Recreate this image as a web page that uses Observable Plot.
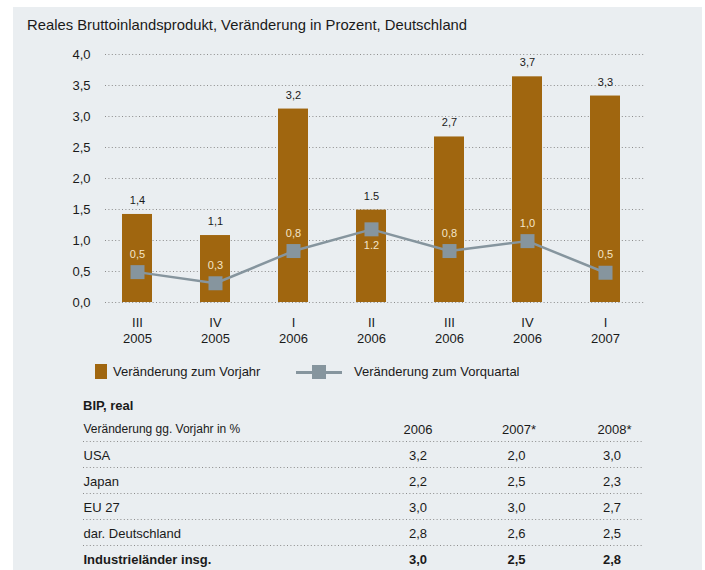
<!DOCTYPE html>
<html>
<head>
<meta charset="utf-8">
<script src="https://cdn.jsdelivr.net/npm/d3@7"></script>
<script src="https://cdn.jsdelivr.net/npm/@observablehq/plot@0.6"></script>
<style>
  html, body { margin: 0; padding: 0; background: #ffffff; }
  body { width: 705px; height: 570px; position: relative; overflow: hidden;
         font-family: "Liberation Sans", Arial, Helvetica, sans-serif; color: #1a1a1a; }
  #panel { position: absolute; left: 13px; top: 7px; width: 689px; height: 563px; background: #eaeef1; }
  #title { position: absolute; left: 27px; top: 15px; font-size: 14.8px; line-height: 20px; white-space: nowrap; }
  .abs { position: absolute; left: 0; top: 0; }
  .leg { position: absolute; font-size: 13px; line-height: 16px; white-space: nowrap; }
  #tabtitle { position: absolute; left: 83px; top: 397px; font-size: 13px; font-weight: bold; line-height: 18px; }
</style>
</head>
<body>
<div id="panel"></div>
<div id="title"></div>
<div id="chart" class="abs"></div>
<div id="legend"></div>
<div id="tabtitle"></div>
<div id="table" class="abs"></div>
<script>
// ---------- data ----------
const titleText = "Reales Bruttoinlandsprodukt, Veränderung in Prozent, Deutschland";
const quarters = ["III", "IV", "I", "II", "III", "IV", "I"];
const years = ["2005", "2005", "2006", "2006", "2006", "2006", "2007"];
const vorjahr = [1.42, 1.08, 3.12, 1.49, 2.67, 3.64, 3.33];
const vorjahrLabels = ["1,4", "1,1", "3,2", "1.5", "2,7", "3,7", "3,3"];
const vorquartal = [0.49, 0.31, 0.83, 1.18, 0.83, 0.99, 0.48];
const vorquartalLabels = ["0,5", "0,3", "0,8", "1.2", "0,8", "1,0", "0,5"];
const labelBelow = ["II 2006"];
const yTicks = [0, 0.5, 1.0, 1.5, 2.0, 2.5, 3.0, 3.5, 4.0];
const seriesNames = ["Veränderung zum Vorjahr", "Veränderung zum Vorquartal"];

const tableTitle = "BIP, real";
const tableHeader = "Veränderung gg. Vorjahr in %";
const tableYears = ["2006", "2007*", "2008*"];
const countries = ["USA", "Japan", "EU 27", "dar. Deutschland", "Industrieländer insg."];
const gdp2006 = [3.2, 2.2, 3.0, 2.8, 3.0];
const gdp2007 = [2.0, 2.5, 3.0, 2.6, 2.5];
const gdp2008 = [3.0, 2.3, 2.7, 2.5, 2.8];
const boldRows = ["Industrieländer insg."];

// ---------- styles ----------
const BAR = "#a0660f";
const LINE = "#86959e";
const TXT = "#1a1a1a";
const CREAM = "#f4e5c8";
const GRID = "#8c8c8c";
const FONT = "'Liberation Sans', Arial, Helvetica, sans-serif";
const fmt = v => v.toFixed(1).replace(".", ",");

document.getElementById("title").textContent = titleText;
document.getElementById("tabtitle").textContent = tableTitle;

// ---------- main chart ----------
const keys = quarters.map((q, i) => q + " " + years[i]);
const data = keys.map((k, i) => ({
  key: k, quarter: quarters[i], year: years[i],
  vorjahr: vorjahr[i], vorjahrLabel: vorjahrLabels[i],
  vorquartal: vorquartal[i], vorquartalLabel: vorquartalLabels[i]
}));
const byKey = new Map(data.map(d => [d.key, d]));

const chart = Plot.plot({
  width: 705,
  height: 350,
  marginLeft: 97,
  marginRight: 60,
  marginTop: 54,
  marginBottom: 48,
  style: { background: "transparent", fontFamily: FONT, fontSize: "13px", color: TXT, overflow: "visible" },
  x: { type: "band", domain: keys, paddingInner: 0.615, paddingOuter: 0.3075, label: null },
  y: { domain: [0, 4], label: null },
  marks: [
    Plot.ruleY(yTicks, { stroke: GRID, strokeWidth: 1, strokeDasharray: "1,2.4", insetLeft: 8 }),
    Plot.barY(data, { x: "key", y: "vorjahr", fill: BAR }),
    Plot.line(data, { x: "key", y: "vorquartal", stroke: LINE, strokeWidth: 2.5 }),
    Plot.dot(data, { x: "key", y: "vorquartal", symbol: "square", r: 7.9, fill: LINE, stroke: "none" }),
    Plot.text(data, { x: "key", y: "vorjahr", text: "vorjahrLabel", dy: -14, fontSize: 11, fill: TXT }),
    Plot.text(data.filter(d => !labelBelow.includes(d.key)), { x: "key", y: "vorquartal", text: "vorquartalLabel", dy: -18, fontSize: 11, fill: CREAM }),
    Plot.text(data.filter(d => labelBelow.includes(d.key)), { x: "key", y: "vorquartal", text: "vorquartalLabel", dy: 16, fontSize: 11, fill: CREAM }),
    Plot.axisY({ ticks: yTicks, tickSize: 0, tickPadding: 7, tickFormat: fmt, fontSize: 13, fill: TXT, label: null }),
    Plot.axisX({ tickSize: 0, tickPadding: 15, tickFormat: k => byKey.get(k).quarter, fontSize: 13, fill: TXT, label: null }),
    Plot.axisX({ tickSize: 0, tickPadding: 31, tickFormat: k => byKey.get(k).year, fontSize: 13, fill: TXT, label: null })
  ]
});
document.getElementById("chart").appendChild(chart);

// ---------- legend ----------
const legend = document.getElementById("legend");
legend.innerHTML = `
  <div style="position:absolute;left:95px;top:364px;width:12px;height:15px;background:${BAR}"></div>
  <div class="leg" style="left:113px;top:364px">${seriesNames[0]}</div>
  <div style="position:absolute;left:296px;top:371px;width:46px;height:2.5px;background:${LINE}"></div>
  <div style="position:absolute;left:312px;top:365px;width:14px;height:14px;background:${LINE}"></div>
  <div class="leg" style="left:354px;top:364px">${seriesNames[1]}</div>
`;

// ---------- table ----------
const rows = ["__header__", ...countries];
const colX = { label: 83, c0: 417.5, c1: 516, c2: 611.5 };
const cells = [];
countries.forEach((c, i) => {
  const bold = boldRows.includes(c);
  cells.push({ row: c, x: colX.label, text: c, anchor: "start", bold });
  cells.push({ row: c, x: colX.c0, text: fmt(gdp2006[i]), anchor: "middle", bold });
  cells.push({ row: c, x: colX.c1, text: fmt(gdp2007[i]), anchor: "middle", bold });
  cells.push({ row: c, x: colX.c2, text: fmt(gdp2008[i]), anchor: "middle", bold });
});
const headerYears = tableYears.map((y, i) => ({ row: "__header__", x: [colX.c0, colX.c1, colX.c2][i], text: y }));

const table = Plot.plot({
  width: 705,
  height: 570,
  marginLeft: 83,
  marginRight: 63,
  marginTop: 0,
  marginBottom: 0,
  style: { background: "transparent", fontFamily: FONT, fontSize: "13px", color: TXT, overflow: "visible" },
  x: { type: "identity", axis: null },
  y: { type: "point", domain: rows, range: [429, 559], padding: 0, axis: null },
  marks: [
    Plot.ruleY(rows.slice(0, -1), { y: d => d, dy: 12, stroke: GRID, strokeWidth: 1, strokeDasharray: "1,2.4" }),
    Plot.text([tableHeader], { x: colX.label, y: () => "__header__", text: d => d, textAnchor: "start", fontSize: 12, fill: TXT, style: "letter-spacing:-0.2px" }),
    Plot.text(headerYears, { x: "x", y: "row", text: "text", textAnchor: "start", dx: -14.5, fontSize: 13, fill: TXT }),
    Plot.text(cells.filter(d => !d.bold && d.anchor === "start"), { x: "x", y: "row", text: "text", textAnchor: "start", fontSize: 13, fill: TXT }),
    Plot.text(cells.filter(d => !d.bold && d.anchor === "middle"), { x: "x", y: "row", text: "text", textAnchor: "middle", fontSize: 13, fill: TXT }),
    Plot.text(cells.filter(d => d.bold && d.anchor === "start"), { x: "x", y: "row", text: "text", textAnchor: "start", fontSize: 13, fontWeight: "bold", fill: TXT }),
    Plot.text(cells.filter(d => d.bold && d.anchor === "middle"), { x: "x", y: "row", text: "text", textAnchor: "middle", fontSize: 13, fontWeight: "bold", fill: TXT })
  ]
});
document.getElementById("table").appendChild(table);
</script>
</body>
</html>
